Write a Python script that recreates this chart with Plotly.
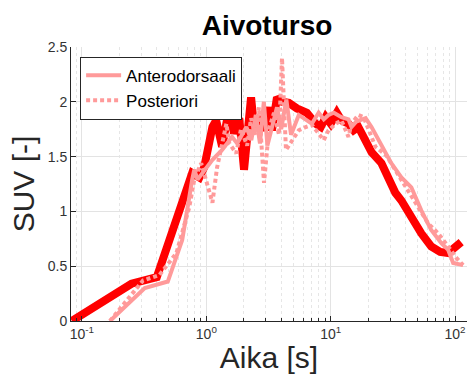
import plotly.graph_objects as go

# Thick red line (not in legend)
t_red = [0.083, 0.25, 0.40, 0.535, 0.705, 0.77, 0.88, 0.96, 1.12, 1.2, 1.34, 1.53, 1.67, 1.84,
         2.01, 2.13, 2.29, 2.42, 2.65, 2.91, 3.19, 3.37, 3.70, 4.06, 4.61, 5.35, 6.43, 7.59,
         8.32, 9.12, 10.0, 11.2, 12.2, 13.9, 15.3, 16.7, 18.4, 19.4, 21.3, 25.6, 29.1, 33.1,
         37.0, 44.5, 53.5, 64.3, 75.9, 87.9, 106.0, 112.0]
v_red = [0.0, 0.34, 0.40, 0.83, 1.22, 1.35, 1.31, 1.40, 1.77, 1.83, 1.59, 1.95, 1.71, 1.85,
         1.38, 1.77, 2.04, 1.77, 1.86, 1.74, 1.95, 1.74, 2.04, 2.0, 1.99, 1.94, 1.9, 1.8,
         1.77, 1.86, 1.8, 1.9, 1.83, 1.8, 1.74, 1.77, 1.68, 1.6, 1.54, 1.44, 1.29, 1.17,
         1.1, 0.94, 0.8, 0.68, 0.63, 0.62, 0.69, 0.72]

# Anterodorsaali (light solid)
t_ant = [0.168, 0.32, 0.49, 0.64, 0.77, 0.80, 0.85, 1.12, 1.34, 1.61, 1.77, 1.94,
         2.1, 2.3, 2.5, 2.7, 2.9, 3.1, 3.4, 3.7, 4.0, 4.4, 4.8, 5.54, 7.05, 8.0, 8.8,
         9.6, 10.6, 12.2, 13.9, 14.7, 16.1, 17.4, 19.1, 21.3, 25.6, 30.7, 37.0, 44.5,
         53.5, 64.3, 77.6, 88.0, 96.5, 116.0]
v_ant = [0.0, 0.30, 0.36, 0.74, 1.29, 1.38, 1.29, 1.47, 1.56, 1.68, 1.62, 1.71,
         1.77, 1.65, 1.88, 1.62, 2.0, 1.6, 1.8, 1.95, 1.75, 2.02, 1.7, 1.88, 1.8, 1.9, 1.84,
         1.88, 1.9, 1.86, 1.84, 1.77, 1.82, 1.83, 1.85, 1.77, 1.6, 1.44, 1.31, 1.22,
         1.01, 0.83, 0.71, 0.65, 0.53, 0.51]

# Posteriori (dotted)
t_post = [0.168, 0.242, 0.31, 0.42, 0.575, 0.73, 0.80, 0.91, 0.96, 1.12, 1.22, 1.32, 1.45,
          1.53, 1.74, 1.9, 2.13, 2.29, 2.47, 2.65, 2.91, 3.19, 3.5, 3.84, 4.06, 4.37, 5.06,
          5.54, 6.3, 7.05, 8.0, 8.8, 9.6, 11.0, 12.2, 13.9, 14.7, 16.7, 18.4, 20.2, 22.9,
          28.0, 33.1, 42.0, 50.5, 60.8, 73.1, 88.0, 101.7, 116.0]
v_post = [0.0, 0.22, 0.37, 0.42, 0.62, 1.04, 1.29, 1.44, 1.35, 1.08, 1.4, 1.59, 1.8,
          1.62, 1.53, 1.75, 1.6, 1.85, 1.7, 1.95, 1.26, 1.75, 1.9, 1.7, 2.4, 1.56, 1.68,
          1.74, 1.77, 1.79, 1.71, 1.65, 1.74, 1.8, 1.83, 1.68, 1.8, 1.88, 1.86, 1.74, 1.59,
          1.51, 1.38, 1.2, 1.04, 0.89, 0.8, 0.68, 0.58, 0.51]

x_tickvals = [0.1, 1, 10, 100]
x_ticktext = ["10<sup>-1</sup>", "10<sup>0</sup>", "10<sup>1</sup>", "10<sup>2</sup>"]
x_minorvals = [m * d for d in (0.01, 0.1, 1, 10, 100) for m in range(2, 10)]
y_tickvals = [0, 0.5, 1, 1.5, 2, 2.5]
y_ticktext = ["0", "0.5", "1", "1.5", "2", "2.5"]

RED = "#ff0000"
PINK = "#ff9a9a"
FONT = "Liberation Sans, Arial, sans-serif"

fig = go.Figure()
fig.add_trace(go.Scatter(x=t_red, y=v_red, mode="lines", showlegend=False,
                         line=dict(color=RED, width=8)))
fig.add_trace(go.Scatter(x=t_ant, y=v_ant, mode="lines", name="Anterodorsaali",
                         line=dict(color=PINK, width=4)))
fig.add_trace(go.Scatter(x=t_post, y=v_post, mode="lines", name="Posteriori",
                         line=dict(color=PINK, width=4, dash="4px,3px")))

fig.update_layout(
    width=473, height=385,
    margin=dict(l=71, r=6, t=47, b=64),
    paper_bgcolor="white", plot_bgcolor="white",
    font=dict(family=FONT, color="#262626"),
    title=dict(text="<b>Aivoturso</b>", x=267 / 473, xanchor="center", xref="container",
               y=1 - 25 / 385, yanchor="middle", yref="container",
               font=dict(size=28, color="#000000"), automargin=False),
    legend=dict(x=0.023, y=0.965, xanchor="left", yanchor="top",
                bgcolor="white", bordercolor="#262626", borderwidth=1,
                font=dict(size=17, color="#000000"), itemwidth=35,
                tracegroupgap=0),
    xaxis=dict(type="log", range=[-1.088, 2.096], tickvals=x_tickvals, ticktext=x_ticktext,
               showline=True, linecolor="#262626", linewidth=1, ticks="inside", ticklen=5,
               tickcolor="#262626", tickfont=dict(size=14, color="#333333"),
               showgrid=True, gridcolor="#e3e3e3", zeroline=False, automargin=False,
               minor=dict(tickmode="array", tickvals=x_minorvals, ticks="inside", ticklen=3,
                          tickcolor="#262626", showgrid=True,
                          gridcolor="#e6e6e6", griddash="dot"),
               title=dict(text="Aika [s]", font=dict(size=30, color="#262626"), standoff=6)),
    yaxis=dict(range=[0, 2.5], tickvals=y_tickvals, ticktext=y_ticktext,
               showline=True, linecolor="#262626", linewidth=1, ticks="inside", ticklen=5,
               tickcolor="#262626", tickfont=dict(size=14, color="#333333"),
               showgrid=True, gridcolor="#e3e3e3", zeroline=False, automargin=False,
               title=dict(text="SUV [-]", font=dict(size=30, color="#262626"), standoff=4)),
)

fig.write_html("out.html", config={"displayModeBar": False},
               post_script="document.body.style.margin='0';document.body.style.overflow='hidden';")
